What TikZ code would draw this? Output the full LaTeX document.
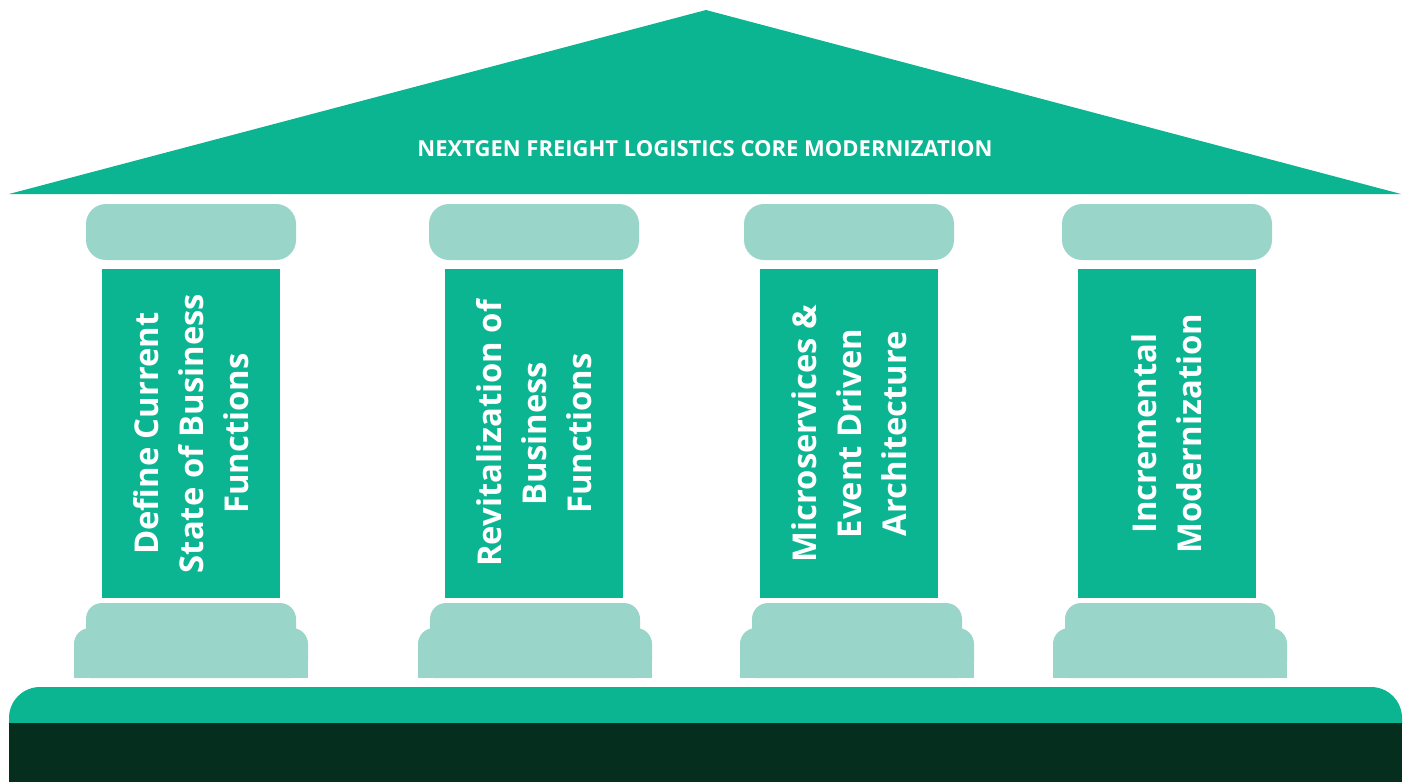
\documentclass[tikz,border=0pt]{standalone}
\usepackage{fontspec}
\setmainfont{Open Sans}
\usepackage{xcolor}
\usetikzlibrary{positioning}
\definecolor{templegreen}{RGB}{11,181,146}
\definecolor{templelight}{RGB}{154,213,202}
\definecolor{templedark}{RGB}{6,46,30}

\begin{document}
\begin{tikzpicture}[x=1pt, y=-1pt,
  capital/.style={fill=templelight, rounded corners=20pt},
  plinth/.style={fill=templelight, rounded corners=16pt},
  shaft/.style={fill=templegreen, rotate=90, minimum width=329pt, minimum height=178pt,
    inner sep=0pt, text=white, align=center, font=\bfseries\fontsize{32.8}{45}\selectfont}]
  \useasboundingbox (0,0) rectangle (1408,782);
  % roof
  \fill[templegreen] (9,194) -- (706,10) -- (1401,194) -- cycle;
  \node[text=white, font=\bfseries\fontsize{22}{26}\selectfont] (title) at (705,149)
    {NEXTGEN FREIGHT LOGISTICS CORE MODERNIZATION};
  % pillars: capital, shaft, two-step base
  \foreach \cx/\bx/\name/\txt in {191/191/define/{Define Current\\State of Business\\Functions},
      534/535/revital/{Revitalization of\\Business\\Functions},
      849/857/microsvc/{Microservices \&\\Event Driven\\Architecture},
      1167/1170/incremental/{Incremental\\Modernization}}{
    \fill[capital] (\cx-105,204) rectangle (\cx+105,260);
    \node[shaft] (\name) at (\cx,433.5) {\txt};
    \fill[plinth] (\bx-105,603) rectangle (\bx+105,650);
    \fill[plinth] (\bx-117,628) rectangle (\bx+117,678);
    \fill[templelight] (\bx-117,650) rectangle (\bx+117,678);
  }
  % platform
  \fill[templegreen] (9,724) {[rounded corners=31pt] -- (9,687) -- (1402,687)} -- (1402,724) -- cycle;
  \fill[templedark] (9,723) rectangle (1402,782);
\end{tikzpicture}
\end{document}
